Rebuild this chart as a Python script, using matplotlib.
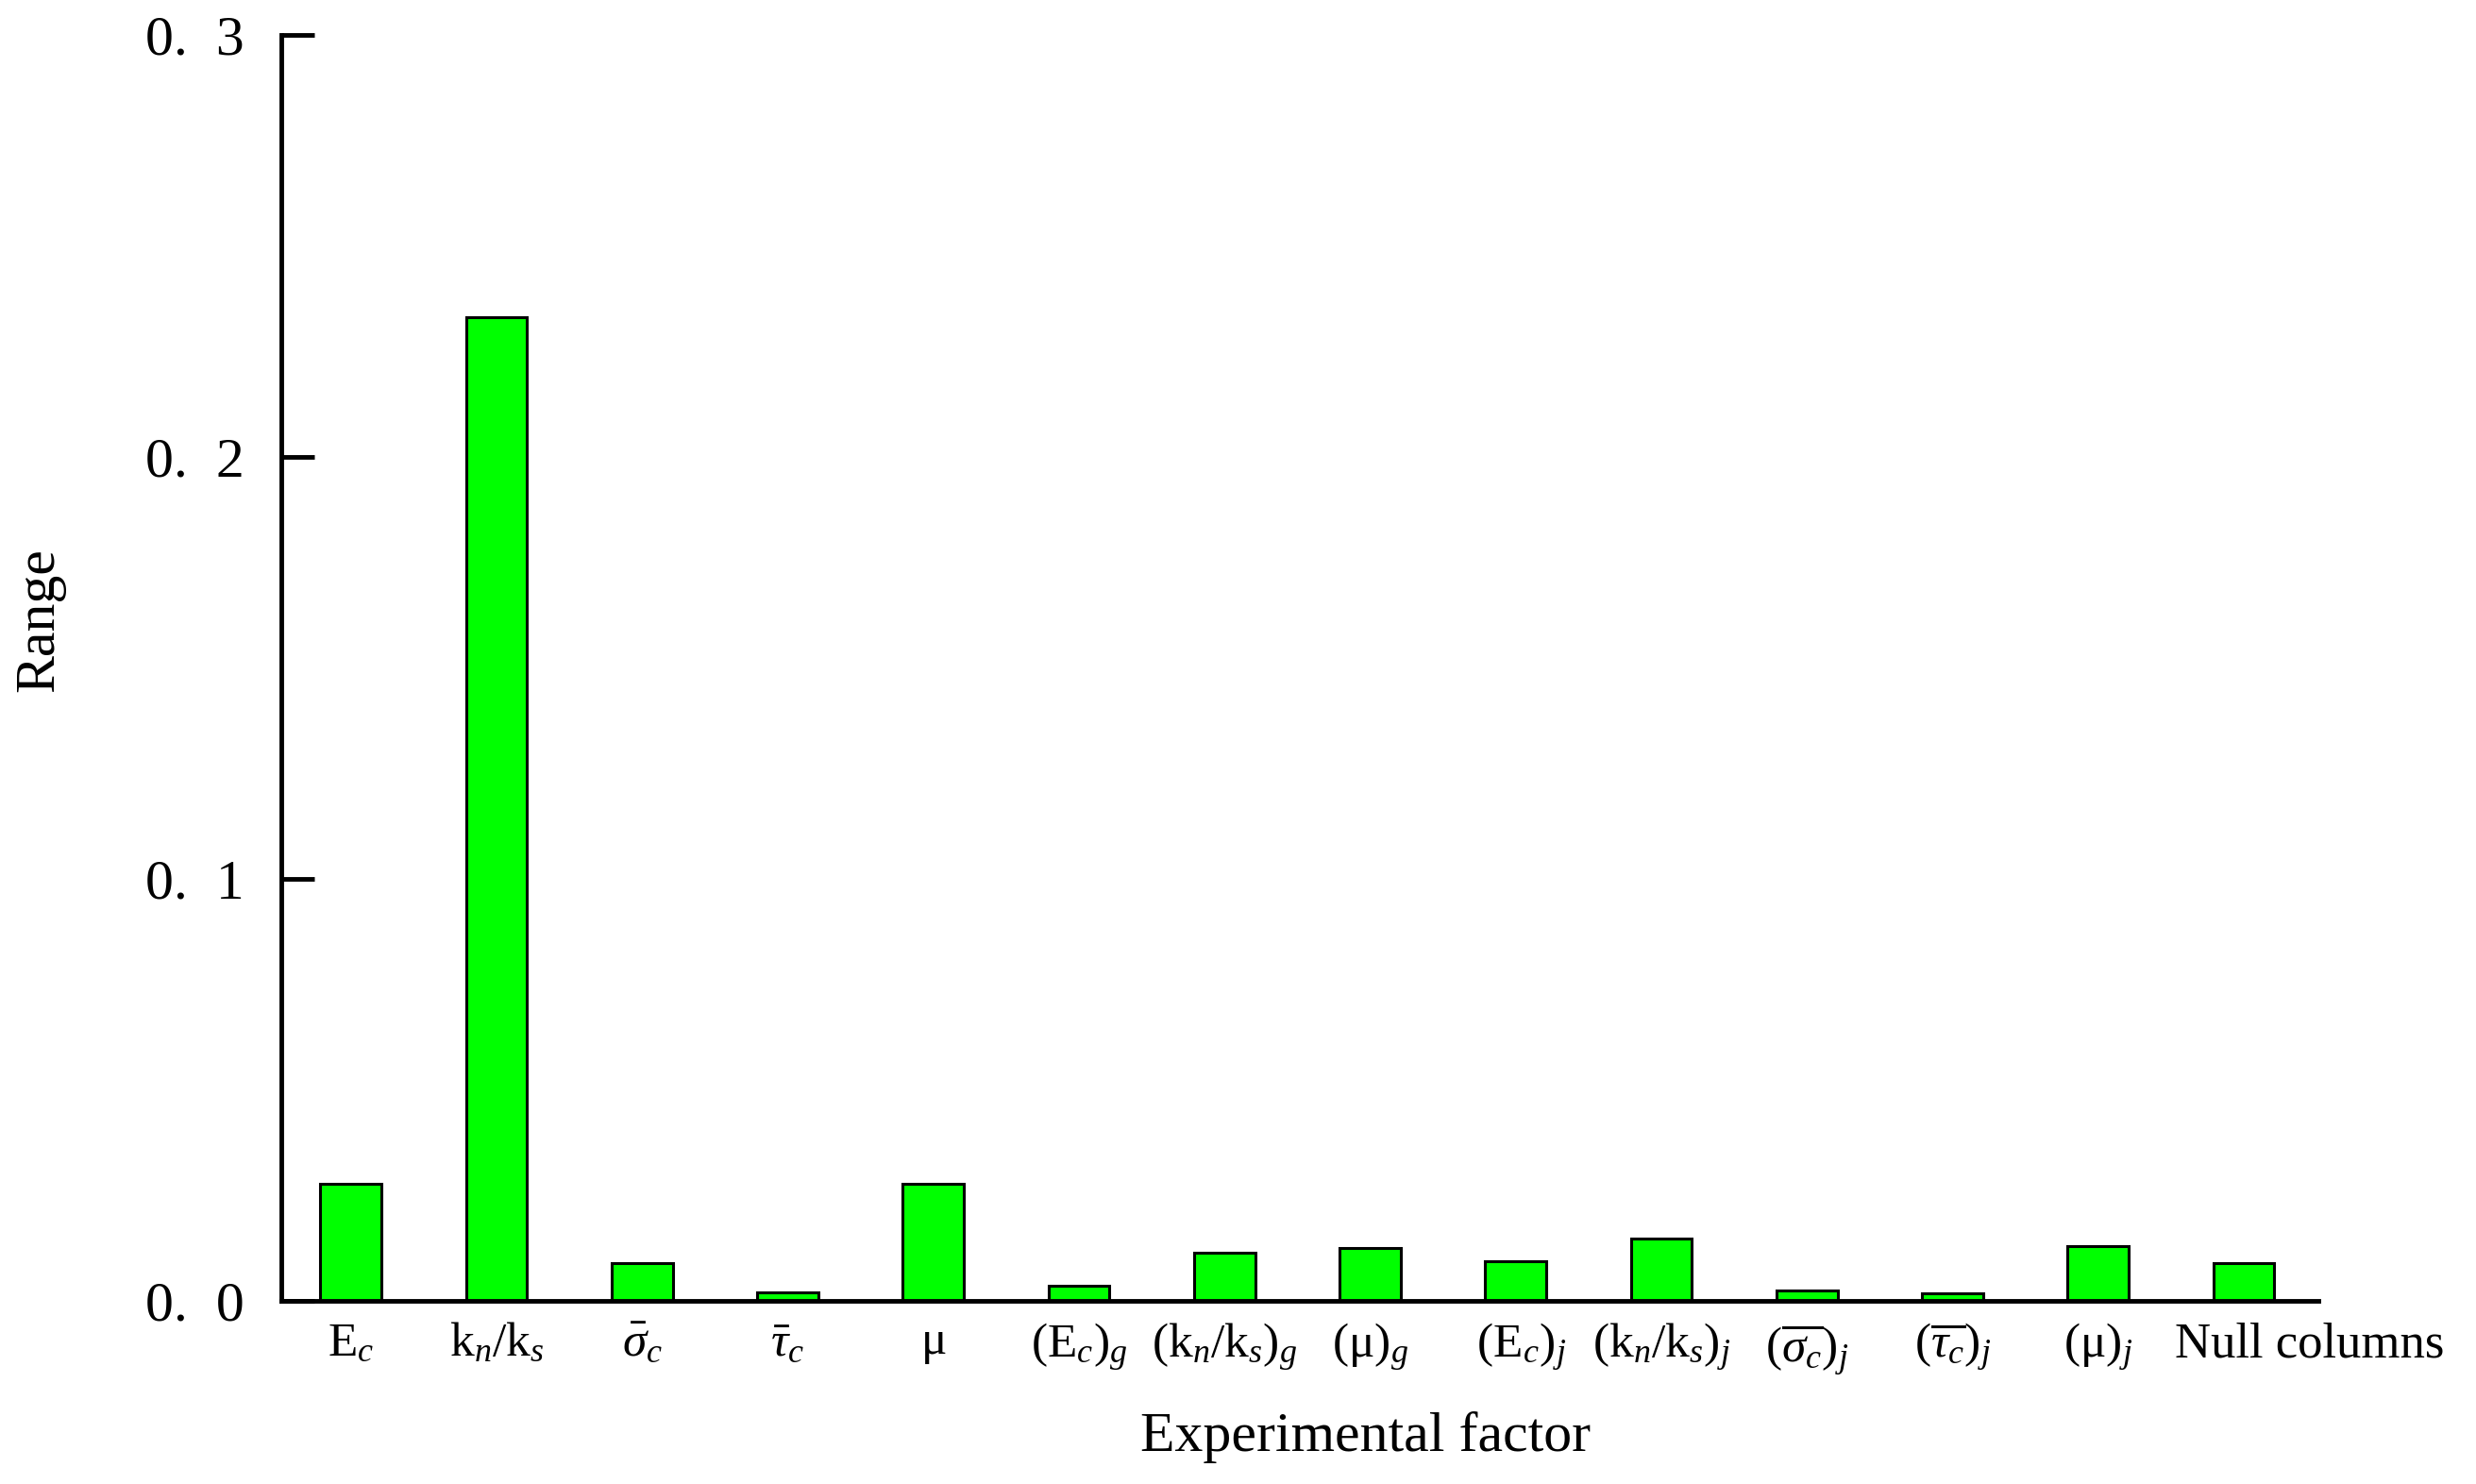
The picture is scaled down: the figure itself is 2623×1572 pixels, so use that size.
import matplotlib
matplotlib.use("Agg")
import matplotlib.pyplot as plt
import numpy as np

categories = [
    r"E$_c$", r"k$_n$/k$_s$", r"$\bar{\sigma}_c$", r"$\bar{\tau}_c$", r"$\mathrm{\mu}$",
    r"(E$_c$)$_g$", r"(k$_n$/k$_s$)$_g$", r"($\mathrm{\mu}$)$_g$", r" (E$_c$)$_j$",
    r"(k$_n$/k$_s$)$_j$", r"($\overline{\sigma_c}$)$_j$", r"($\overline{\tau_c}$)$_j$",
    r"($\mathrm{\mu}$)$_j$", "Null columns",
]
values = [0.0277, 0.2330, 0.0090, 0.0021, 0.0277, 0.0036, 0.0113, 0.0126,
          0.0095, 0.0148, 0.0024, 0.0017, 0.0130, 0.0090]
yticks = [0.0, 0.1, 0.2, 0.3]
ytick_labels = ["0.  0", "0.  1", "0.  2", "0.  3"]

plt.rcParams["font.family"] = ["Liberation Serif", "DejaVu Serif"]
plt.rcParams["mathtext.fontset"] = "custom"
plt.rcParams["mathtext.rm"] = "Liberation Serif"
plt.rcParams["mathtext.it"] = "Liberation Serif:italic"
plt.rcParams["mathtext.bf"] = "Liberation Serif:bold"

W, H = 2623, 1572
fig = plt.figure(figsize=(W / 100, H / 100), dpi=100)
ax = fig.add_axes([178 / 1568, 1 - 824 / 940, (1468 - 178) / 1568, (824 - 22) / 940])

x = np.arange(len(categories))
ax.bar(x, values, width=0.42, color="#00FF00", edgecolor="black", linewidth=2.2, zorder=2)

ax.set_xlim(-0.48, len(categories) - 1 + 0.51)
ax.set_ylim(0, 0.3)
ax.set_yticks(yticks)
ax.set_yticklabels(ytick_labels, fontsize=43)
ax.set_xticks(x)
# the last label is drawn separately, shifted right of its bar as in the reference
ax.set_xticklabels(categories[:-1] + [""], fontsize=37)
ax.annotate(categories[-1], xy=(x[-1], 0), xycoords=("data", "axes fraction"),
            xytext=(50, -16), textcoords="offset points",
            ha="center", va="top", fontsize=38)

for s in ["top", "right"]:
    ax.spines[s].set_visible(False)
for s in ["left", "bottom"]:
    ax.spines[s].set_linewidth(3.5)
    ax.spines[s].set_zorder(3)

ax.tick_params(axis="y", direction="in", length=25, width=3.5, pad=28)
ax.tick_params(axis="x", length=0, pad=16)

fig.text(1447 / W, 1 - 1522 / H, "Experimental factor", fontsize=43, ha="center", va="center")
fig.text(42 / W, 1 - 657 / H, "Range", fontsize=43, ha="center", va="center", rotation=90)

fig.savefig("out.png", dpi=100, facecolor="white")
